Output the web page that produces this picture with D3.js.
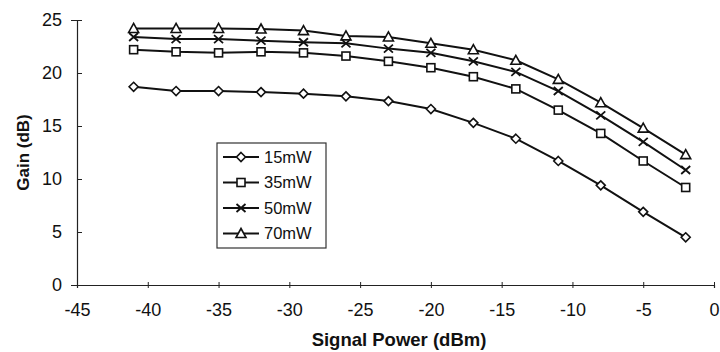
<!DOCTYPE html>
<html>
<head>
<meta charset="utf-8">
<script src="https://cdn.jsdelivr.net/npm/d3@7"></script>
<style>
  body { margin: 0; background: #fff; }
  text { font-family: "Liberation Sans", Arial, sans-serif; fill: #111; }
</style>
</head>
<body>
<div id="chart"></div>
<script>
// signal power points (dBm)
const signalPower = [-41, -38, -35, -32, -29, -26, -23, -20, -17, -14, -11, -8, -5, -2];
const gain15 = [18.7, 18.3, 18.3, 18.2, 18.05, 17.8, 17.35, 16.6, 15.3, 13.8, 11.7, 9.4, 6.9, 4.5];
const gain35 = [22.2, 22.0, 21.9, 22.0, 21.9, 21.6, 21.1, 20.5, 19.65, 18.5, 16.5, 14.3, 11.7, 9.2];
const gain50 = [23.4, 23.2, 23.2, 23.05, 22.9, 22.8, 22.3, 21.9, 21.1, 20.1, 18.3, 16.0, 13.5, 10.85];
const gain70 = [24.2, 24.2, 24.2, 24.15, 24.0, 23.5, 23.4, 22.8, 22.2, 21.2, 19.4, 17.2, 14.8, 12.3];
const seriesNames = ['15mW', '35mW', '50mW', '70mW'];
const markerTypes = ['diamond', 'square', 'cross', 'triangle'];
const xTicks = [-45, -40, -35, -30, -25, -20, -15, -10, -5, 0];
const yTicks = [0, 5, 10, 15, 20, 25];

const width = 720, height = 352;
const margin = {top: 20, right: 6, bottom: 67, left: 77};

const svg = d3.select('#chart').append('svg')
  .attr('width', width)
  .attr('height', height);

const x = d3.scaleLinear().domain([-45, 0]).range([margin.left, width - margin.right]);
const y = d3.scaleLinear().domain([0, 25]).range([height - margin.bottom, margin.top]);

// axes (plain hyphen for negatives, like the original)
const xAxis = d3.axisBottom(x).tickValues(xTicks).tickSize(3).tickPadding(15).tickFormat(d => String(d));
const yAxis = d3.axisLeft(y).tickValues(yTicks).tickSize(6).tickPadding(9);

const gx = svg.append('g')
  .attr('class', 'x axis')
  .attr('transform', `translate(0,${y(0)})`)
  .call(xAxis);
gx.select('.domain').attr('stroke', '#222').attr('stroke-width', 1.2);
gx.selectAll('.tick line').attr('y1', -3).attr('stroke', '#222');
gx.selectAll('.tick text').style('font-size', '18px').attr('dy', '0.71em');

const gy = svg.append('g')
  .attr('class', 'y axis')
  .attr('transform', `translate(${x(-45)},0)`)
  .call(yAxis);
gy.select('.domain').attr('stroke', '#222').attr('stroke-width', 1.2);
gy.selectAll('.tick line').attr('x2', 5).attr('stroke', '#222');
gy.selectAll('.tick text').style('font-size', '18px');

// axis titles
svg.append('text')
  .attr('x', 399)
  .attr('y', 346)
  .attr('text-anchor', 'middle')
  .style('font-size', '18.5px')
  .style('font-weight', 'bold')
  .text('Signal Power (dBm)');

svg.append('text')
  .attr('transform', `translate(29,${(y(0) + y(25)) / 2}) rotate(-90)`)
  .attr('text-anchor', 'middle')
  .style('font-size', '17px')
  .style('font-weight', 'bold')
  .text('Gain (dB)');

// marker drawing
function drawMarker(g, type, cx, cy) {
  if (type === 'diamond') {
    g.append('path').attr('d', `M${cx},${cy - 4.5}L${cx + 4.5},${cy}L${cx},${cy + 4.5}L${cx - 4.5},${cy}Z`)
      .attr('fill', '#fff').attr('stroke', '#111').attr('stroke-width', 1.6);
  } else if (type === 'square') {
    g.append('rect').attr('x', cx - 4).attr('y', cy - 4).attr('width', 8).attr('height', 8)
      .attr('fill', '#fff').attr('stroke', '#111').attr('stroke-width', 1.6);
  } else if (type === 'cross') {
    g.append('path').attr('d', `M${cx - 4.5},${cy - 4}L${cx + 4.5},${cy + 4}M${cx - 4.5},${cy + 4}L${cx + 4.5},${cy - 4}`)
      .attr('fill', 'none').attr('stroke', '#111').attr('stroke-width', 1.8);
  } else {
    g.append('path').attr('d', `M${cx},${cy - 5}L${cx + 5},${cy + 4}L${cx - 5},${cy + 4}Z`)
      .attr('fill', '#fff').attr('stroke', '#111').attr('stroke-width', 1.6);
  }
}

const allSeries = [gain15, gain35, gain50, gain70];
const line = d3.line()
  .x((d, i) => x(signalPower[i]))
  .y(d => y(d));

allSeries.forEach((vals, si) => {
  svg.append('path')
    .attr('d', line(vals))
    .attr('fill', 'none')
    .attr('stroke', '#111')
    .attr('stroke-width', 2);
});
allSeries.forEach((vals, si) => {
  const g = svg.append('g');
  vals.forEach((v, i) => drawMarker(g, markerTypes[si], x(signalPower[i]), y(v)));
});

// legend
const legend = svg.append('g').attr('transform', 'translate(217,143)');
legend.append('rect')
  .attr('width', 109).attr('height', 105)
  .attr('fill', '#fff').attr('stroke', '#333').attr('stroke-width', 1.2);

seriesNames.forEach((name, i) => {
  const ly = 14 + i * 25.5;
  legend.append('line')
    .attr('x1', 6).attr('x2', 42).attr('y1', ly).attr('y2', ly)
    .attr('stroke', '#111').attr('stroke-width', 2);
  drawMarker(legend, markerTypes[i], 24, ly);
  legend.append('text')
    .attr('x', 47).attr('y', ly)
    .attr('dy', '0.35em')
    .style('font-size', '16.5px')
    .text(name);
});
</script>
</body>
</html>
